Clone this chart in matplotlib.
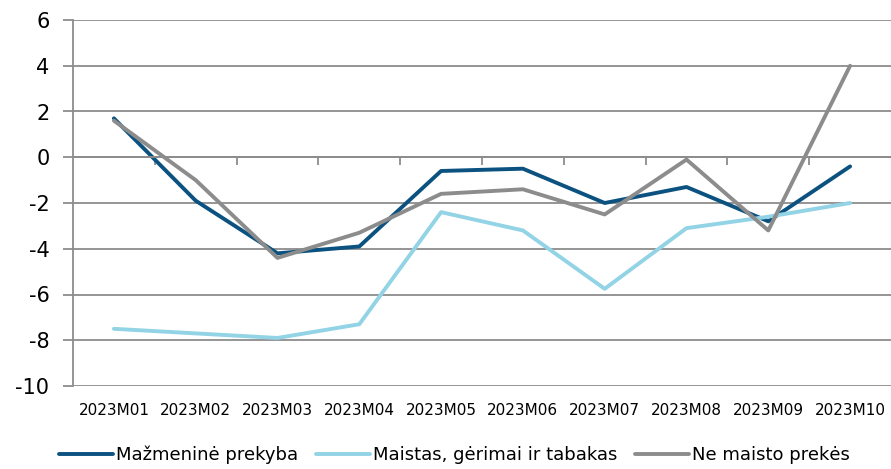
# -*- coding: utf-8 -*-
import matplotlib
matplotlib.use("Agg")
import matplotlib.pyplot as plt
import numpy as np

menesiai = ['2023M01', '2023M02', '2023M03', '2023M04', '2023M05',
            '2023M06', '2023M07', '2023M08', '2023M09', '2023M10']
mazmenine = [1.7, -1.9, -4.2, -3.9, -0.6, -0.5, -2.0, -1.3, -2.8, -0.4]
maistas = [-7.5, -7.7, -7.9, -7.3, -2.4, -3.2, -5.75, -3.1, -2.6, -2.0]
ne_maisto = [1.6, -1.0, -4.4, -3.3, -1.6, -1.4, -2.5, -0.1, -3.2, 4.0]

serijos = [('Mažmeninė prekyba', mazmenine, '#0b5280'),
           ('Maistas, gėrimai ir tabakas', maistas, '#92d3e5'),
           ('Ne maisto prekės', ne_maisto, '#8c8c8c')]

plt.rcParams['font.family'] = ['DejaVu Sans']
plt.rcParams['axes.unicode_minus'] = False
fig = plt.figure(figsize=(8.91, 4.69), dpi=100)
ax = fig.add_axes([73/891, 1-386/469, 1-73/891, 366/469])

x = np.arange(len(menesiai))
for name, vals, col in serijos:
    ax.plot(x, vals, color=col, lw=2.8, label=name, solid_capstyle='round')

ax.set_xlim(-0.5, len(menesiai)-0.5)
ax.set_ylim(-10, 6)
ax.set_yticks(np.arange(-10, 7, 2))
ax.yaxis.grid(True, color='#8c8c8c', lw=1.3)
ax.set_axisbelow(True)
ax.tick_params(axis='y', labelsize=15, length=7, width=1.3, color='#8c8c8c', pad=10)
for s in ['top', 'right']:
    ax.spines[s].set_visible(False)
ax.spines['left'].set_color('#8c8c8c')
ax.spines['left'].set_linewidth(1.3)

# x axis line at zero with ticks between categories
ax.spines['bottom'].set_position(('data', 0))
ax.spines['bottom'].set_color('#8c8c8c')
ax.spines['bottom'].set_linewidth(1.3)
ax.set_xticks(np.arange(0.5, len(menesiai)-0.5, 1))
ax.tick_params(axis='x', labelbottom=False, length=6, width=1.3, color='#8c8c8c')

sec = ax.secondary_xaxis(0.0)
sec.set_xticks(x)
sec.set_xticklabels(menesiai)
sec.tick_params(length=0, labelsize=11, pad=12)
sec.spines['bottom'].set_visible(False)

fig.legend(loc='center', bbox_to_anchor=(0.51, 1-455/469), ncol=3, frameon=False,
           fontsize=13, handlelength=3.0, handletextpad=0.15, columnspacing=1.0)

fig.savefig('out.png', dpi=100)
